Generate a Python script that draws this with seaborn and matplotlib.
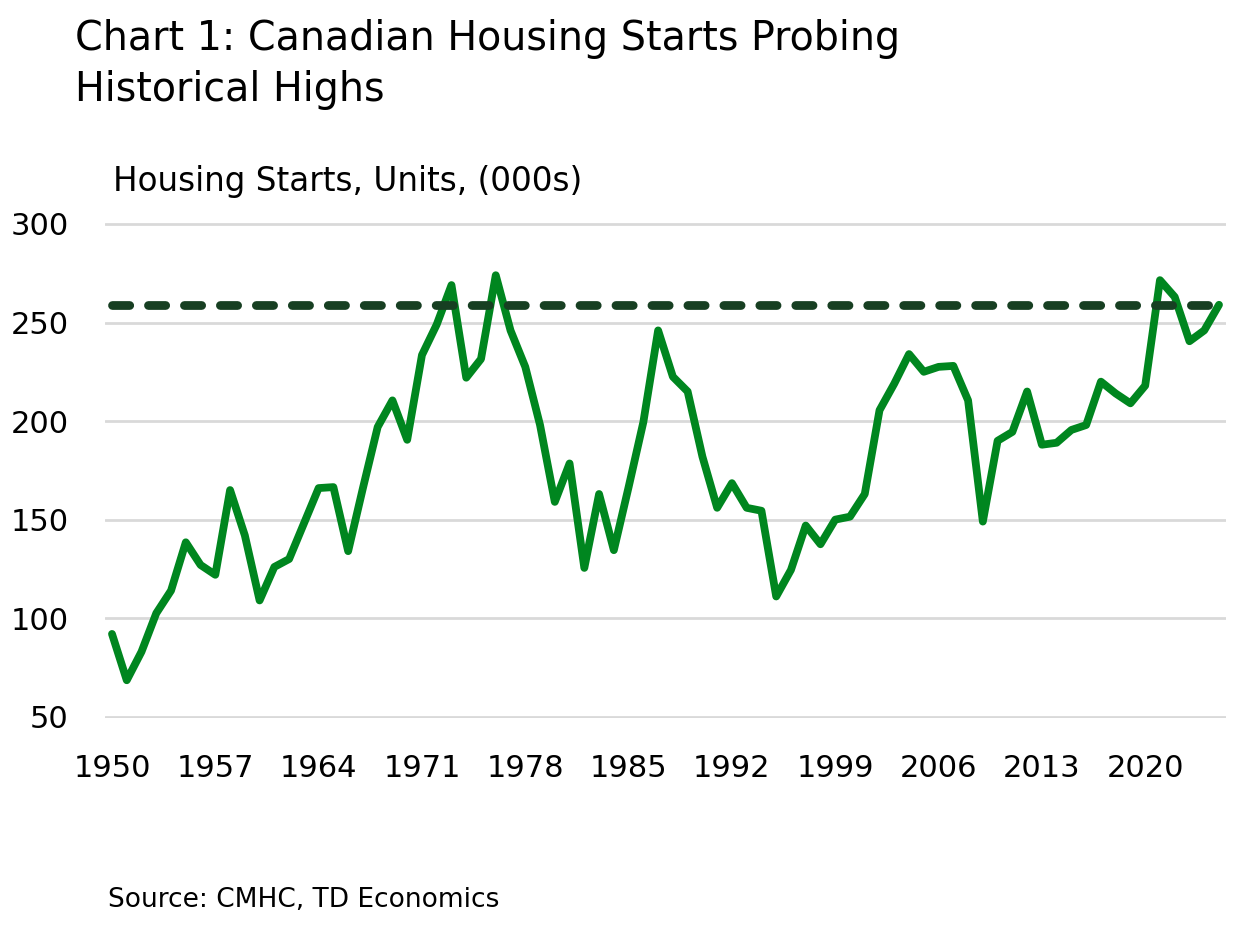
import matplotlib
matplotlib.use("Agg")
import matplotlib.pyplot as plt
import pandas as pd
import seaborn as sns

# annual housing starts, thousands of units
years = list(range(1950, 2026))
starts = [
    92, 68.5, 83, 102.5, 114, 138.5, 127, 122, 165, 142,
    109, 126, 130, 148, 166, 166.5, 134, 166, 197, 210.5,
    190.5, 233.5, 249, 269, 222, 231.5, 274, 246, 227.5, 198,
    159, 178.5, 125.5, 163, 134.5, 166.5, 199.5, 246, 222.5, 215,
    182, 156, 168.5, 156, 154.5, 111, 124.5, 147, 137.5, 150,
    151.5, 163, 205.5, 219, 234, 225, 227.5, 228, 210.5, 149,
    190, 194.5, 215, 188, 189, 195.5, 198, 220, 214, 209,
    218, 271.5, 263, 240.5, 246, 259,
]
ref_level = 259
xticks = [1950, 1957, 1964, 1971, 1978, 1985, 1992, 1999, 2006, 2013, 2020]
yticks = [50, 100, 150, 200, 250, 300]

title_lines = ["Chart 1: Canadian Housing Starts Probing", "Historical Highs"]
ylabel = "Housing Starts, Units, (000s)"
source = "Source: CMHC, TD Economics"

GREEN = "#00861F"
DARK = "#173F22"
GRID = "#D9D9D9"

df = pd.DataFrame({"year": years, "starts": starts})
ref = pd.DataFrame({"year": [years[0], years[-1]], "level": [ref_level, ref_level]})

sns.set_theme(style="white")
plt.rcParams["font.family"] = ["DejaVu Sans"]
plt.rcParams["text.color"] = "black"

W, H = 1240, 925
fig = plt.figure(figsize=(W / 100, H / 100), dpi=100)
ax = fig.add_axes([105 / W, 1 - 718.3 / H, 1121 / W, (718.3 - 222.4) / H])

sns.lineplot(data=df, x="year", y="starts", color=GREEN, linewidth=5.6, ax=ax,
             solid_joinstyle="round", solid_capstyle="round", zorder=3)
sns.lineplot(data=ref, x="year", y="level", color=DARK, linewidth=6.3, ax=ax,
             dashes=False, zorder=4)
dash_line = ax.get_lines()[-1]
dash_line.set_dashes((1.97, 2.14))
dash_line.set_dash_capstyle("round")

ax.set_xlim(1950 - 7 / 14.76, 2025 + 7 / 14.76)
ax.set_ylim(49.2, 300.8)
ax.set_xticks(xticks)
ax.set_yticks(yticks)
ax.yaxis.grid(True, color=GRID, linewidth=2.0)
ax.xaxis.grid(False)
for s in ax.spines.values():
    s.set_visible(False)
ax.tick_params(axis="both", length=0, labelsize=22, colors="black")
ax.tick_params(axis="y", pad=26)
ax.tick_params(axis="x", pad=26)
ax.set_xlabel("")
ax.set_ylabel("")

fig.text(75 / W, 1 - 50 / H, title_lines[0], fontsize=28.5, va="baseline", ha="left")
fig.text(75 / W, 1 - 101 / H, title_lines[1], fontsize=28.5, va="baseline", ha="left")
fig.text(113 / W, 1 - 191 / H, ylabel, fontsize=23.5, va="baseline", ha="left")
fig.text(108 / W, 1 - 907 / H, source, fontsize=19, va="baseline", ha="left")

fig.savefig("out.png", dpi=100)
